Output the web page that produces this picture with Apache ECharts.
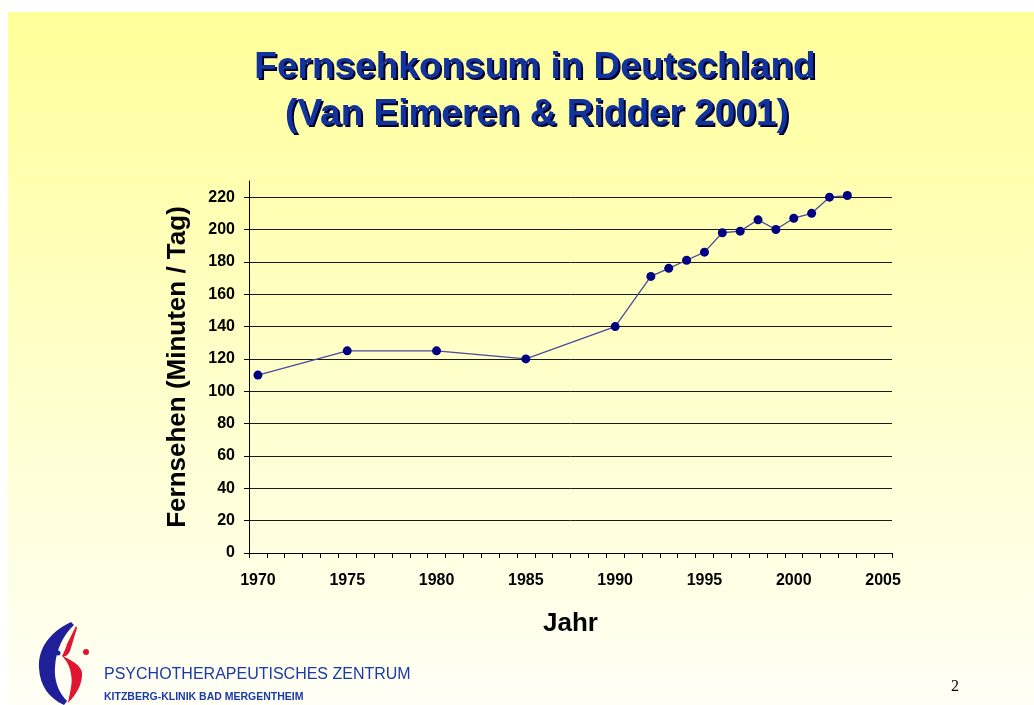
<!DOCTYPE html>
<html>
<head>
<meta charset="utf-8">
<script src="https://cdn.jsdelivr.net/npm/echarts@6/dist/echarts.min.js"></script>
<style>html,body{margin:0;padding:0;background:#fff;}#c{width:1034px;height:705px;}</style>
</head>
<body>
<div id="c"></div>
<script>
// Category axis: every year from 1970 to 2005
const axisYears = [];
for (let y = 1970; y <= 2005; y++) axisYears.push(String(y));
// Measured years and values (minutes per day)
const dataYears = [1970, 1975, 1980, 1985, 1990, 1992, 1993, 1994, 1995, 1996, 1997, 1998, 1999, 2000, 2001, 2002, 2003];
const values    = [110, 125, 125, 120, 140, 171, 176, 181, 186, 198, 199, 206, 200, 207, 210, 220, 221];
const yTicks = [0, 20, 40, 60, 80, 100, 120, 140, 160, 180, 200, 220];
const titleLines = ['Fernsehkonsum in Deutschland', '(Van Eimeren & Ridder 2001)'];

const seriesData = dataYears.map((y, i) => [String(y), values[i]]);
const font = '"Liberation Sans", Arial, sans-serif';

const logoSvg = '<svg xmlns="http://www.w3.org/2000/svg" width="60" height="90" viewBox="30 618 60 90">' +
  '<path d="M71,622 C50,632 38,648 39,668 C40,686 49,698 64,705 L67,701 C58,692 54,680 55,667 C56,650 63,635 74,625 Z" fill="#1f1f9a"/>' +
  '<path d="M76,626 L77,628 L70,651 C68,655 66,657 63,656 C70,660 80,664 82,672 C83,684 76,695 68,703 C70,692 73,683 71,674 C70,666 66,660 62,656 C64,652 66,648 67,644 Z" fill="#e01530"/>' +
  '<circle cx="58" cy="653" r="2.5" fill="#1f1f9a"/><circle cx="86" cy="652" r="3" fill="#e01530"/></svg>';
const logoUrl = 'data:image/svg+xml;charset=utf-8,' + encodeURIComponent(logoSvg);

const titleFont = 'bold 37px ' + font;
const titleText = (t, x, y, dx, color, z) => ({type: 'text', x: x + dx, y: y + dx, z: z, silent: true,
  style: {text: t, fill: color, font: titleFont, align: 'center', verticalAlign: 'middle'}});

const chart = echarts.init(document.getElementById('c'), null, {renderer: 'canvas'});
chart.setOption({
  animation: false,
  backgroundColor: '#ffffff',
  graphic: [
    {type: 'rect', z: -10, silent: true, shape: {x: 8, y: 12, width: 1026, height: 693},
     style: {fill: new echarts.graphic.LinearGradient(0, 0, 0, 1, [
       {offset: 0, color: '#FFFF99'}, {offset: 0.5, color: '#FFFFC8'}, {offset: 1, color: '#FFFFF6'}])}},
    titleText(titleLines[0], 535, 68, 2, '#000033', 9),
    titleText(titleLines[0], 535, 68, 0, '#12339c', 10),
    titleText(titleLines[1], 537, 115, 2, '#000033', 9),
    titleText(titleLines[1], 537, 115, 0, '#12339c', 10),
    {type: 'image', z: 5, style: {image: logoUrl, x: 30, y: 618, width: 60, height: 90}},
    {type: 'text', x: 104, y: 675, z: 5, style: {text: 'PSYCHOTHERAPEUTISCHES ZENTRUM', fill: '#1a3aa8', font: '16px ' + font, verticalAlign: 'middle'}},
    {type: 'text', x: 104, y: 697, z: 5, style: {text: 'KITZBERG-KLINIK BAD MERGENTHEIM', fill: '#1a3aa8', font: 'bold 10.5px ' + font, verticalAlign: 'middle'}},
    {type: 'text', x: 955, y: 687, z: 5, style: {text: '2', fill: '#000', font: '16px "Liberation Serif", serif', align: 'center', verticalAlign: 'middle'}}
  ],
  grid: {left: 249, right: 142, top: 181, bottom: 152, containLabel: false},
  xAxis: {
    type: 'category',
    data: axisYears,
    boundaryGap: true,
    name: 'Jahr',
    nameLocation: 'middle',
    nameGap: 58,
    nameTextStyle: {fontFamily: font, fontWeight: 'bold', fontSize: 26, color: '#000'},
    axisLine: {show: true, lineStyle: {color: '#000', width: 1}},
    axisTick: {show: true, interval: 0, alignWithLabel: false, length: 5, lineStyle: {color: '#000'}},
    axisLabel: {interval: (idx, val) => Number(val) % 5 === 0, fontFamily: font, fontWeight: 'bold', fontSize: 16, color: '#000', margin: 20},
    splitLine: {show: false}
  },
  yAxis: {
    type: 'value',
    min: 0, max: 230, interval: 20,
    name: 'Fernsehen (Minuten / Tag)',
    nameLocation: 'middle',
    nameGap: 58,
    nameRotate: 90,
    nameTextStyle: {fontFamily: font, fontWeight: 'bold', fontSize: 26, color: '#000'},
    axisLine: {show: true, lineStyle: {color: '#000', width: 1}},
    axisTick: {show: true, length: 5, customValues: yTicks, lineStyle: {color: '#000'}},
    axisLabel: {customValues: yTicks, fontFamily: font, fontWeight: 'bold', fontSize: 16, color: '#000', margin: 14},
    splitLine: {show: true, lineStyle: {color: '#1a1a1a', width: 1}}
  },
  series: [{
    type: 'line',
    data: seriesData,
    symbol: 'circle',
    symbolSize: 9,
    itemStyle: {color: '#000080'},
    lineStyle: {color: '#4a4a9e', width: 1.3},
    z: 5
  }]
});
</script>
</body>
</html>
